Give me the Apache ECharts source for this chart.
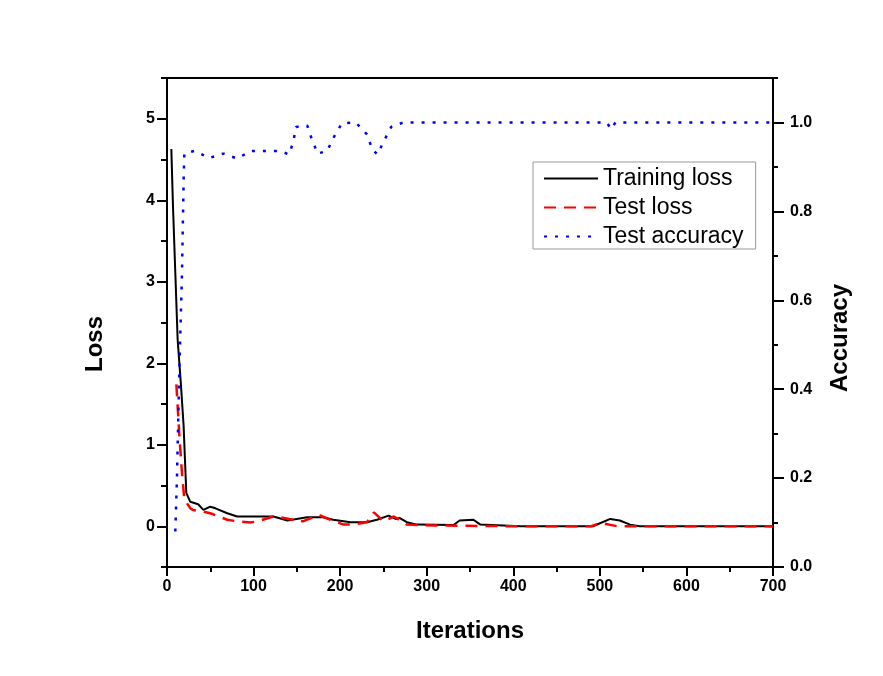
<!DOCTYPE html>
<html>
<head>
<meta charset="utf-8">
<script src="https://cdn.jsdelivr.net/npm/echarts@6/dist/echarts.min.js"></script>
<style>
html,body{margin:0;padding:0;background:#fff;}
#chart{width:883px;height:676px;}
</style>
</head>
<body>
<div id="chart"></div>
<script>
// ---- data ----
const trainIter = [5, 6.9, 9.6, 12.3, 16.2, 19.2, 22.3, 24.6, 26.9, 36, 42, 50, 56, 69.6, 81, 100, 123, 139, 162, 180, 192, 212, 231, 242.5, 256, 264, 269, 277, 289, 331, 338, 354, 362, 408, 492, 512, 523, 535, 546, 600, 700];
const trainLoss = [4.63, 3.93, 3.11, 2.29, 1.72, 1.23, 0.41, 0.39, 0.30, 0.27, 0.20, 0.24, 0.22, 0.16, 0.12, 0.12, 0.12, 0.07, 0.11, 0.11, 0.08, 0.05, 0.05, 0.08, 0.13, 0.09, 0.10, 0.05, 0.02, 0.015, 0.07, 0.08, 0.02, 0.0, 0.0, 0.09, 0.07, 0.02, 0.0, 0.0, 0.0];

const testIter = [10.8, 12.3, 14.6, 17.3, 20, 27, 30, 42, 50, 69.6, 81, 96, 104, 123, 131, 146, 157, 175, 188.6, 204, 215, 231, 239, 250, 262, 277, 308, 400, 490, 501, 520, 600, 700];
const testLoss = [1.74, 1.47, 1.06, 0.65, 0.33, 0.22, 0.20, 0.18, 0.16, 0.08, 0.06, 0.045, 0.06, 0.12, 0.11, 0.08, 0.06, 0.14, 0.08, 0.02, 0.02, 0.05, 0.17, 0.06, 0.12, 0.02, 0.01, 0.0, 0.0, 0.04, 0.0, 0.0, 0.0];

const accIter = [9.6, 11.5, 14.2, 17.3, 19.2, 20, 32, 49, 65, 81, 97, 113, 130, 141, 146, 149, 162, 167, 174, 185, 193, 202, 218, 231, 237, 243, 251, 259, 273, 508, 513, 518, 700];
const accValue = [0.08, 0.20, 0.44, 0.66, 0.87, 0.93, 0.936, 0.92, 0.93, 0.919, 0.936, 0.936, 0.936, 0.928, 0.957, 0.99, 0.993, 0.964, 0.93, 0.936, 0.968, 0.998, 1.0, 0.973, 0.94, 0.928, 0.96, 0.99, 1.0, 1.0, 0.985, 1.0, 1.0];

const xTicks = [0, 100, 200, 300, 400, 500, 600, 700];
const lossTicks = [0, 1, 2, 3, 4, 5];
const accTicks = [0.0, 0.2, 0.4, 0.6, 0.8, 1.0];

const seriesNames = ['Training loss', 'Test loss', 'Test accuracy'];

// ---- chart ----
const FONT = '"Liberation Sans", Arial, sans-serif';
const pair = (xs, ys) => xs.map((x, i) => [x, ys[i]]);
const tickStyle = {color: '#000', width: 2};
const labelStyle = {color: '#000', fontWeight: 'bold', fontSize: 16, fontFamily: FONT};
const noLine = {show: false, onZero: false};

const G = {left: 167, right: 110, top: 78, bottom: 109};
const plotH = 676 - G.top - G.bottom;
const lossPx = plotH / 6;           // -0.5 .. 5.5
const accPx = plotH / 1.1;          // 0 .. 1.1
const yLoss0 = 676 - G.bottom - 0.5 * lossPx;

const chart = echarts.init(document.getElementById('chart'), null, {renderer: 'canvas'});
chart.setOption({
  animation: false,
  backgroundColor: '#fff',
  grid: [
    {left: G.left, right: G.right, top: G.top, bottom: G.bottom, show: true, borderColor: '#000', borderWidth: 2, backgroundColor: 'transparent'},
    {left: G.left, right: G.right, top: yLoss0 - 5 * lossPx, bottom: 676 - yLoss0},
    {left: G.left, right: G.right, top: 676 - G.bottom - 1.0 * accPx, bottom: G.bottom}
  ],
  xAxis: [
    {gridIndex: 0, type: 'value', position: 'bottom', min: xTicks[0], max: xTicks[xTicks.length - 1], interval: xTicks[1] - xTicks[0],
     axisLine: noLine, splitLine: {show: false},
     axisTick: {show: true, inside: false, length: 9, lineStyle: tickStyle},
     minorTick: {show: true, splitNumber: 2, length: 5, lineStyle: tickStyle},
     axisLabel: Object.assign({margin: 12}, labelStyle)},
    {gridIndex: 1, type: 'value', min: 0, max: 700, show: false, axisLine: noLine},
    {gridIndex: 2, type: 'value', min: 0, max: 700, show: false, axisLine: noLine}
  ],
  yAxis: [
    {gridIndex: 0, type: 'value', position: 'left', min: -0.5, max: 5.5, interval: 0.5,
     axisLine: noLine, splitLine: {show: false}, axisLabel: {show: false},
     axisTick: {show: true, inside: false, length: 6, lineStyle: tickStyle}},
    {gridIndex: 0, type: 'value', position: 'right', min: 0, max: 1.1, interval: 0.1,
     axisLine: noLine, splitLine: {show: false}, axisLabel: {show: false},
     axisTick: {show: true, inside: false, length: 5, lineStyle: tickStyle}},
    {gridIndex: 1, type: 'value', position: 'left', min: lossTicks[0], max: lossTicks[lossTicks.length - 1], interval: 1,
     axisLine: noLine, splitLine: {show: false},
     axisTick: {show: true, inside: false, length: 10, lineStyle: tickStyle},
     axisLabel: Object.assign({margin: 12}, labelStyle)},
    {gridIndex: 2, type: 'value', position: 'right', min: accTicks[0], max: accTicks[accTicks.length - 1], interval: 0.2,
     axisLine: noLine, splitLine: {show: false},
     axisTick: {show: true, inside: false, length: 11, lineStyle: tickStyle},
     axisLabel: Object.assign({margin: 17, formatter: v => v.toFixed(1)}, labelStyle)}
  ],
  legend: {
    data: seriesNames,
    orient: 'vertical', left: 533, top: 162,
    itemWidth: 54, itemHeight: 14, itemGap: 6,
    padding: [5, 12, 1, 10],
    backgroundColor: '#fff', borderColor: '#999', borderWidth: 1,
    itemStyle: {opacity: 0},
    textStyle: {color: '#000', fontSize: 23, fontFamily: FONT}
  },
  series: [
    {name: seriesNames[0], type: 'line', xAxisIndex: 0, yAxisIndex: 0, data: pair(trainIter, trainLoss),
     symbol: 'none', lineStyle: {color: '#000', width: 2}, itemStyle: {color: '#000'}},
    {name: seriesNames[1], type: 'line', xAxisIndex: 0, yAxisIndex: 0, data: pair(testIter, testLoss),
     symbol: 'none', lineStyle: {color: '#ff0000', width: 2.5, type: [12, 8]}, itemStyle: {color: '#ff0000'}},
    {name: seriesNames[2], type: 'line', xAxisIndex: 0, yAxisIndex: 1, data: pair(accIter, accValue),
     symbol: 'none', lineStyle: {color: '#0000ff', width: 2.5, type: [3, 8]}, itemStyle: {color: '#0000ff'}}
  ],
  graphic: [
    {type: 'text', x: 95, y: 344, rotation: Math.PI / 2,
     style: {text: 'Loss', fill: '#000', font: 'bold 24px ' + FONT, textAlign: 'center', textVerticalAlign: 'middle'}},
    {type: 'text', x: 840, y: 338, rotation: Math.PI / 2,
     style: {text: 'Accuracy', fill: '#000', font: 'bold 24px ' + FONT, textAlign: 'center', textVerticalAlign: 'middle'}},
    {type: 'text', x: 470, y: 631,
     style: {text: 'Iterations', fill: '#000', font: 'bold 24px ' + FONT, textAlign: 'center', textVerticalAlign: 'middle'}}
  ]
});
</script>
</body>
</html>
